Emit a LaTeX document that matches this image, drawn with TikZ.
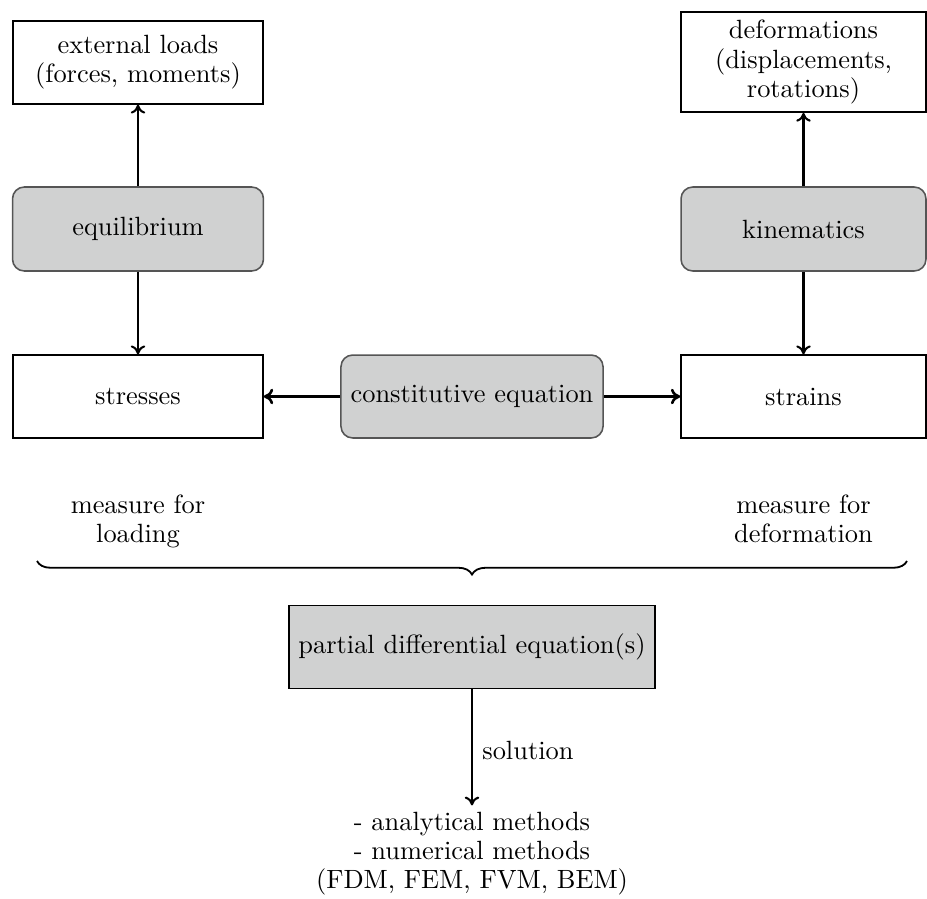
\documentclass[tikz,border=0pt]{standalone}
\usetikzlibrary{decorations.pathreplacing,arrows.meta}
\definecolor{boxgray}{RGB}{208,209,209}
\definecolor{bordergray}{RGB}{85,85,85}
\begin{document}
\begin{tikzpicture}[x=0.3846pt,y=-0.3846pt,
  every node/.style={font=\fontsize{10.15}{11.2}\selectfont, align=center, inner sep=0pt},
  plainbox/.style={draw=black, line width=0.6pt, fill=white},
  graybox/.style={draw=bordergray, line width=0.6pt, fill=boxgray, rounded corners=4.5pt},
  pdebox/.style={draw=black, line width=0.6pt, fill=boxgray},
  arr/.style={-{To[length=3.4pt,width=5.6pt]}, line width=0.8pt},
  harr/.style={-{To[length=3.6pt,width=6pt]}, line width=1pt}
]
\useasboundingbox (0,0) rectangle (927,898);

\node[plainbox, minimum width=96.2pt, minimum height=31.9pt] (ext) at (138,62.5) {external loads\\(forces, moments)};
\node[graybox, minimum width=96.5pt, minimum height=32.3pt] (equi) at (138,229) {equilibrium};
\node[plainbox, minimum width=96.2pt, minimum height=31.9pt] (stress) at (138,396.5) {stresses};

\node[graybox, minimum width=100.8pt, minimum height=31.9pt] (const) at (472,396.5) {constitutive equation};

\node[plainbox, minimum width=94.2pt, minimum height=38.5pt] (deform) at (803.5,62) {deformations\\(displacements,\\rotations)};
\node[graybox, minimum width=94.2pt, minimum height=32.3pt] (kin) at (803.5,229) {kinematics};
\node[plainbox, minimum width=94.2pt, minimum height=31.9pt] (strain) at (803.5,396.5) {strains};

\node (mload) at (138,521) {measure for\\loading};
\node (mdef) at (803.5,519) {measure for\\deformation};

\coordinate (bl) at (37,561);
\coordinate (br) at (907,561);
\draw[decorate, decoration={brace, mirror, amplitude=5.2pt}, line width=0.7pt] (bl) -- (br);

\node[pdebox, minimum width=140.8pt, minimum height=31.9pt] (pde) at (472,647) {partial differential equation(s)};

\node (meth) at (472,854) {- analytical methods\\- numerical methods\\(FDM, FEM, FVM, BEM)};

\draw[arr] (equi) -- (ext);
\draw[arr] (equi) -- (stress);
\draw[arr] (kin) -- (deform);
\draw[arr] (kin) -- (strain);
\draw[harr] (const) -- (stress);
\draw[harr] (const) -- (strain);
\draw[arr, shorten >=2.5pt] (pde) -- node[right, inner sep=3.6pt] (sol) {solution} (meth.north);
\end{tikzpicture}
\end{document}
